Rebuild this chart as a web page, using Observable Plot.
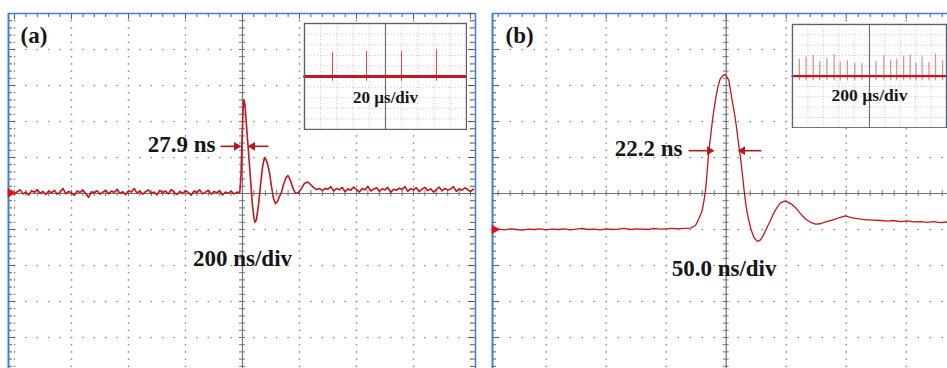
<!DOCTYPE html>
<html><head><meta charset="utf-8">
<script src="https://cdn.jsdelivr.net/npm/d3@7"></script>
<script src="https://cdn.jsdelivr.net/npm/@observablehq/plot@0.6"></script>
<style>
html,body{margin:0;padding:0;background:#fff;overflow:hidden}
#wrap{position:relative;width:947px;height:368px;overflow:hidden;background:#fff}
#wrap > div{position:absolute;top:0}
#wrap svg{display:block}
</style></head><body><div id="wrap"></div>
<script>
// ---------- DATA (time in ns / µs, amplitude in divisions) ----------
// Panel (a): 200 ns/div
const aPreT = [-820,-810,-800,-790,-780,-770,-760,-750,-740,-730,-720,-710,-700,-690,-680,-670,-660,-650,-640,-630,-620,-610,-600,-590,-580,-570,-560,-550,-540,-530,-520,-510,-500,-490,-480,-470,-460,-450,-440,-430,-420,-410,-400,-390,-380,-370,-360,-350,-340,-330,-320,-310,-300,-290,-280,-270,-260,-250,-240,-230,-220,-210,-200,-190,-180,-170,-160,-150,-140,-130,-120,-110,-100,-90,-80,-70,-60,-50,-40,-30,-20];
const aPreV = [0.02,0.07,-0.02,0.05,0.10,-0.01,0.04,-0.04,0.08,0.03,
  0.11,0.00,0.06,-0.03,0.07,0.02,0.09,-0.02,0.04,0.14,
  -0.01,0.06,0.02,-0.05,0.07,0.03,0.10,0.00,-0.11,0.05,
  0.02,0.08,-0.02,0.04,0.09,-0.01,0.07,0.03,0.12,0.00,
  0.05,-0.03,0.08,0.04,0.14,0.01,0.07,-0.02,0.05,0.10,
  0.00,0.04,-0.04,0.09,0.02,0.07,-0.01,0.11,0.03,-0.03,
  0.06,0.00,0.08,0.03,-0.05,0.07,0.02,0.10,-0.01,0.04,
  0.09,-0.02,0.06,0.02,0.08,-0.04,0.04,0.00,0.07,-0.01,0.03];
const aPulseT = [-9.5,-5.3,-1.8,1.8,4.6,8.8,14,19.3,24.6,29.8,35,40.4,43.9,49,56,63,70,77,82.5,87.7,94.7,101.8,108.8,115.8,122.8,129.8,136.8,143.9,152.6,159.6,168.4,177.2,186,196.5,207,217.5,228,238.6,249,259.6,270,280.7,291];
const aPulseV = [0.03,0.5,1.47,2.3,2.6,2.47,1.89,1.33,0.78,0.22,-0.33,-0.69,-0.8,-0.72,-0.33,0.22,0.72,1.0,0.94,0.83,0.58,0.19,-0.14,-0.28,-0.22,-0.08,0.03,0.25,0.44,0.5,0.36,0.14,0,0.03,0.14,0.28,0.32,0.25,0.17,0.11,0.14,0.08,0.14];
const aPostT = [300,310,320,330,340,350,360,370,380,390,400,410,420,430,440,450,460,470,480,490,500,510,520,530,540,550,560,570,580,590,600,610,620,630,640,650,660,670,680,690,700,710,720,730,740,750,760,770,780,790,800,810];
const aPostV = [0.12,0.19,0.07,0.14,0.10,0.17,0.05,0.13,0.09,0.18,
  0.11,0.04,0.14,0.10,0.20,0.07,0.12,0.16,0.06,0.13,
  0.10,0.17,0.03,0.12,0.09,0.15,0.11,0.19,0.06,0.13,
  0.10,0.16,0.05,0.12,0.17,0.08,0.13,0.04,0.11,0.18,
  0.07,0.14,0.10,0.12,0.19,0.06,0.13,0.09,0.16,0.11,0.05,0.12];

// Panel (b): 50 ns/div
const bPreT = [-195,-190,-185,-180,-175,-170,-165,-160,-155,-150,-145,-140,-135,-130,-125,-120,-115,-110,-105,-100,-95,-90,-85,-80,-75,-70,-65,-60,-55,-50,-45,-40,-35];
const bPreV = [-1.00,-0.99,-1.01,-0.98,-1.00,-1.02,-0.99,-1.00,-0.98,-1.01,
  -0.99,-1.00,-0.98,-1.01,-0.99,-0.97,-1.00,-0.99,-1.01,-0.98,
  -1.00,-0.99,-0.97,-1.00,-0.98,-0.99,-1.00,-0.97,-0.99,-0.98,-0.97,-0.98,-0.97];
const bPulseT = [-29.75,-25.6,-22.8,-20,-18.5,-17.25,-15.8,-14.5,-13.1,-11.7,-10.3,-8.5,-7,-5.2,-3.3,-1.4,0.25,2.2,3.6,5,6.9,8.6,10.5,11.9,13.6,15.25,16.9,18.8,20.7,23,24.8,26.3,28.6,30.8,33.6,36.9,39.8,42.5,45.25,48.6,51.5,55,57.75,61.9,66.1,70.25,74.4,78.6,82.75,86.9,91,95.25,99.4,101.9,105.25,109.2,113.6,117.5,122.75,128.6,134.4,139.4,145.25,151,156,161.9,167.75,172.75,178.6,184.4];
const bPulseV = [-0.96,-0.89,-0.70,-0.47,-0.19,0.08,0.64,1.19,1.56,1.97,2.31,2.69,2.95,3.17,3.25,3.31,3.26,3.14,2.86,2.58,2.22,1.84,1.33,1.01,0.5,-0.01,-0.42,-0.75,-1.0,-1.21,-1.29,-1.33,-1.29,-1.17,-0.97,-0.75,-0.53,-0.38,-0.26,-0.21,-0.24,-0.31,-0.39,-0.56,-0.71,-0.80,-0.85,-0.84,-0.79,-0.75,-0.71,-0.66,-0.62,-0.65,-0.68,-0.70,-0.72,-0.73,-0.74,-0.75,-0.77,-0.75,-0.78,-0.76,-0.79,-0.78,-0.80,-0.78,-0.81,-0.79];

// Inset (a): 20 µs/div
const insAT = [-100, 100];
const insAV = [0, 0];
const insASpikeT = [-65.4, -23.4, 19.8, 63];
const insASpikeH = [2.24, 2.36, 2.36, 2.52];
// Inset (b): 200 µs/div
const insBT = [-1000, 1000];
const insBV = [0, 0];
const insBSpikeT = [-911,-823,-730,-646,-553,-459,-380,-287,-190,-97,85,186,275,354,443,528,604,684,772,857,949];
const insBSpikeH = [1.63,1.85,2.0,1.42,1.7,2.1,1.38,1.5,1.25,1.23,1.42,1.94,1.54,1.63,1.94,2.04,1.25,1.85,1.32,2.17,1.47];

// Annotations
const aLabels = ["(a)", "27.9 ns", "200 ns/div"];
const bLabels = ["(b)", "22.2 ns", "50.0 ns/div"];
const insALabel = "20 µs/div";
const insBLabel = "200 µs/div";

// ---------- DRAWING ----------
const RED = "#c4161c", BLUE = "#3d7fd6", GRID = "#8c8c8c", AXIS = "#737373";
const SERIF = "Liberation Serif, Times New Roman, serif";
const Y0 = -4.861, Y1 = 5, H = 368, MT = 13;
const zip = (T, V) => T.map((t, i) => ({t, v: V[i]}));
const wrap = document.getElementById("wrap");

function panel(o) {
  const pxX = (o.xDom[1] - o.xDom[0]) / (o.width - o.mL - o.mR);
  const pxY = (Y1 - Y0) / (H - MT);
  const minorT = d3.range(Math.ceil(o.xDom[0] / o.step) * o.step, o.xDom[1], o.step).map(d => +d.toFixed(4));
  const minorV = d3.range(-4.8, 5.0001, 0.2).map(d => +d.toFixed(2));
  const majorV = [-4, -3, -2, -1, 1, 2, 3, 4];
  const isMajV = v => Math.abs(v - Math.round(v)) < 1e-6;
  const isMajT = t => Math.abs(t / o.div - Math.round(t / o.div)) < 1e-6;
  const colDots = o.majorT.flatMap(t => minorV.map(v => ({t, v})));
  const rowDots = majorV.flatMap(v => minorT.map(t => ({t, v})));
  const series = o.series.map(s => zip(s[0], s[1]));
  const marks = [
    Plot.dot(colDots, {x: "t", y: "v", r: 0.85, fill: GRID, stroke: null}),
    Plot.dot(rowDots, {x: "t", y: "v", r: 0.85, fill: GRID, stroke: null}),
    Plot.ruleX([0], {stroke: AXIS, strokeWidth: 1.2}),
    Plot.ruleY([0], {stroke: AXIS, strokeWidth: 1.2}),
    Plot.ruleY(minorV, {y: d => d, x1: -3 * pxX, x2: 3 * pxX, stroke: AXIS}),
    Plot.ruleX(minorT, {x: d => d, y1: -3 * pxY, y2: 3 * pxY, stroke: AXIS}),
    // frame edges with ticks
    Plot.ruleY(minorV, {y: d => d, x1: o.xDom[0], x2: d => o.xDom[0] + (isMajV(d) ? 7 : 4) * pxX, stroke: "#5c5c5c"}),
    Plot.ruleX(minorT, {x: d => d, y1: Y1, y2: d => Y1 - (isMajT(d) ? 6 : 4) * pxY, stroke: "#5c5c5c"}),
    Plot.ruleX([o.xDom[0]], {stroke: BLUE, strokeWidth: 2}),
    Plot.ruleY([Y1], {stroke: BLUE, strokeWidth: 1.5})
  ];
  if (o.rightEdge) {
    marks.push(Plot.ruleY(minorV, {y: d => d, x1: o.xDom[1], x2: d => o.xDom[1] - (isMajV(d) ? 7 : 4) * pxX, stroke: "#5c5c5c"}));
    marks.push(Plot.ruleX([o.xDom[1]], {stroke: BLUE, strokeWidth: 1.5}));
  }
  for (const s of series) marks.push(Plot.line(s, {x: "t", y: "v", stroke: RED, strokeWidth: o.lw, curve: "linear"}));
  // channel marker
  marks.push(Plot.dot([{t: o.xDom[0], v: o.markerV}], {x: "t", y: "v", symbol: "triangle", rotate: 90, r: 3.6, fill: "#e3121b", stroke: null, dx: 2}));
  // annotations
  const txt = (d, anchor) => Plot.text([d], {x: "t", y: "v", text: "s", textAnchor: anchor, fontSize: 23, fontWeight: "bold", fontFamily: SERIF, fill: "#161616"});
  marks.push(txt(o.ann[0], "start"), txt(o.ann[1], "end"), txt(o.ann[2], "middle"));
  const AR = "#b01a1e";
  marks.push(Plot.link(o.arrows, {x1: "t1", x2: "t2", y1: "v", y2: "v", stroke: AR, strokeWidth: 1.6}));
  marks.push(Plot.dot(o.arrows.filter(d => d.t2 > d.t1), {x: "t2", y: "v", symbol: "triangle", rotate: 90, r: 3.2, fill: AR, stroke: null, dx: -3}));
  marks.push(Plot.dot(o.arrows.filter(d => d.t2 < d.t1), {x: "t2", y: "v", symbol: "triangle", rotate: -90, r: 3.2, fill: AR, stroke: null, dx: 3}));
  const svg = Plot.plot({
    width: o.width, height: H,
    marginLeft: o.mL, marginRight: o.mR, marginTop: MT, marginBottom: 0,
    x: {domain: o.xDom, axis: null},
    y: {domain: [Y0, Y1], axis: null},
    style: {background: "transparent", overflow: "visible"},
    marks
  });
  const div = document.createElement("div");
  div.style.left = o.left + "px";
  div.appendChild(svg);
  wrap.appendChild(div);
}

function inset(o) {
  const majX = [-4, -3, -2, -1, 1, 2, 3, 4].map(k => k * o.div);
  const majY = [-4, -3, -2, -1, 1, 2, 3, 4];
  const spikes = o.spikeT.map((t, i) => ({t, h: o.spikeH[i]}));
  const svg = Plot.plot({
    width: o.width + 2, height: 108,
    marginLeft: 1, marginRight: 1, marginTop: 1, marginBottom: 1,
    x: {domain: [-5 * o.div, 5 * o.div], axis: null},
    y: {domain: [-5, 5], axis: null},
    style: {background: "#fff"},
    marks: [
      Plot.ruleX(majX, {stroke: "#cdbdbd", strokeDasharray: "1.2,2", strokeWidth: 0.9}),
      Plot.ruleY(majY, {stroke: "#cdbdbd", strokeDasharray: "1.2,2", strokeWidth: 0.9}),
      Plot.ruleX([0], {stroke: "#6e6e6e", strokeWidth: 1.2}),
      Plot.ruleX(spikes, {x: "t", y1: -0.45, y2: "h", stroke: o.spikeColor, strokeWidth: o.spikeW, strokeOpacity: o.spikeOp}),
      Plot.line(zip(o.T, o.V), {x: "t", y: "v", stroke: RED, strokeWidth: o.lw}),
      Plot.text([o.label], {x: 0, y: o.labelV, text: d => d, fontSize: o.fs, fontWeight: "bold", fontFamily: SERIF, fill: "#161616"}),
      Plot.frame({stroke: "#56617a", strokeWidth: 1.4})
    ]
  });
  const div = document.createElement("div");
  div.style.left = o.left + "px";
  div.style.top = o.top + "px";
  div.appendChild(svg);
  wrap.appendChild(div);
}

panel({
  left: 0, width: 480, mL: 8, mR: 5, xDom: [-821, 817.5], step: 40, div: 200,
  majorT: [-800, -600, -400, -200, 200, 400, 600, 800],
  series: [[aPreT, aPreV], [[-20, ...aPulseT], [aPreV[aPreV.length - 1], ...aPulseV]], [[291, ...aPostT], [0.14, ...aPostV]]],
  lw: 1.6, markerV: 0.02, rightEdge: true,
  ann: [{t: -779, v: 4.39, s: aLabels[0]}, {t: -94.7, v: 1.36, s: aLabels[1]}, {t: 0, v: -1.81, s: aLabels[2]}],
  arrows: [{t1: -77.2, t2: -10.5, v: 1.31}, {t1: 91.2, t2: 24.6, v: 1.31}]
});
panel({
  left: 480, width: 467, mL: 12, mR: 0, xDom: [-194.75, 184.4], step: 10, div: 50,
  majorT: [-150, -100, -50, 50, 100, 150],
  series: [[[...bPreT, ...bPulseT], [...bPreV, ...bPulseV]]],
  lw: 1.3, markerV: -1, rightEdge: false,
  ann: [{t: -183.9, v: 4.39, s: bLabels[0]}, {t: -36.4, v: 1.25, s: bLabels[1]}, {t: -1.8, v: -2.08, s: bLabels[2]}],
  arrows: [{t1: -31.4, t2: -11.4, v: 1.19}, {t1: 29.4, t2: 11.1, v: 1.19}]
});
inset({left: 303, top: 22, width: 162, div: 20, T: insAT, V: insAV, lw: 3,
  spikeT: insASpikeT, spikeH: insASpikeH, spikeColor: "#d0262c", spikeW: 1, spikeOp: 0.85,
  label: insALabel, labelV: -2.0, fs: 17});
inset({left: 791, top: 23, width: 158, div: 200, T: insBT, V: insBV, lw: 2.2,
  spikeT: insBSpikeT, spikeH: insBSpikeH, spikeColor: "#b4383c", spikeW: 1.3, spikeOp: 0.55,
  label: insBLabel, labelV: -1.86, fs: 18});
</script></body></html>
